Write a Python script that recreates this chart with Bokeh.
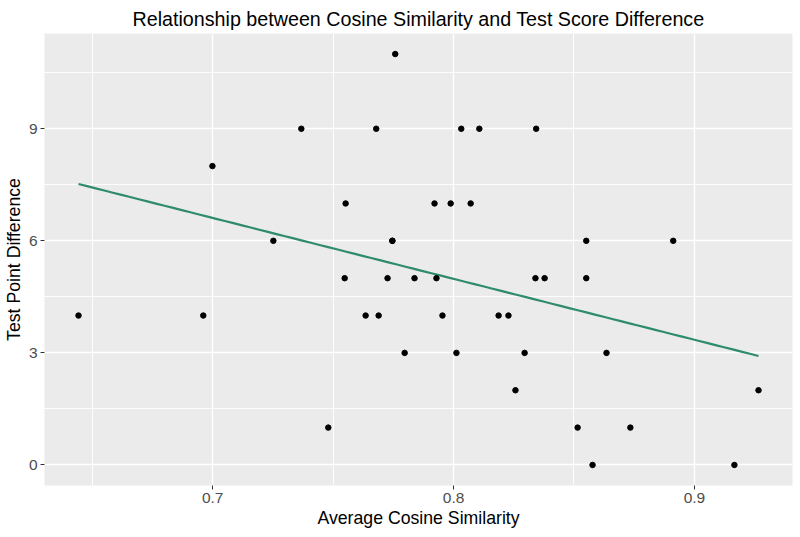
import numpy as np
from bokeh.plotting import figure
from bokeh.models import FixedTicker, Range1d
from bokeh.embed import file_html
from bokeh.resources import INLINE

# Data
cosine_similarity = [
    0.6443, 0.6961, 0.6999, 0.7252, 0.7368, 0.7480, 0.7552, 0.7548,
    0.7635, 0.7679, 0.7689, 0.7758, 0.7726, 0.7746, 0.7746, 0.7797,
    0.7838, 0.7921, 0.7929, 0.7954, 0.7988, 0.8012, 0.8032, 0.8071,
    0.8107, 0.8187, 0.8228, 0.8257, 0.8295, 0.8343, 0.8340, 0.8378,
    0.8515, 0.8551, 0.8551, 0.8577, 0.8635, 0.8734, 0.8912, 0.9166,
    0.9266,
]
point_difference = [
    4, 4, 8, 6, 9, 1, 7, 5,
    4, 9, 4, 11, 5, 6, 6, 3,
    5, 7, 5, 4, 7, 3, 9, 7,
    9, 4, 4, 2, 3, 9, 5, 5,
    1, 6, 5, 0, 3, 1, 6, 0,
    2,
]
x_ticks = [0.7, 0.8, 0.9]
x_minor = [0.65, 0.75, 0.85]
y_ticks = [0, 3, 6, 9]
y_minor = [1.5, 4.5, 7.5, 10.5]

title_text = "Relationship between Cosine Similarity and Test Score Difference"
x_title = "Average Cosine Similarity"
y_title = "Test Point Difference"

xs = np.array(cosine_similarity)
ys = np.array(point_difference, dtype=float)
slope, intercept = np.polyfit(xs, ys, 1)
fit_x = np.linspace(xs.min(), xs.max(), 80)
fit_y = slope * fit_x + intercept

xpad = (xs.max() - xs.min()) * 0.05
ypad = (ys.max() - ys.min()) * 0.05

FONT = "Liberation Sans"

p = figure(width=800, height=537, output_backend="svg", toolbar_location=None,
           x_range=Range1d(xs.min() - xpad, xs.max() + xpad),
           y_range=Range1d(ys.min() - ypad, ys.max() + ypad),
           title=title_text, min_border_left=44, min_border_right=8,
           min_border_top=33, min_border_bottom=52)

p.background_fill_color = "#EBEBEB"
p.border_fill_color = "white"
p.outline_line_color = None

p.title.text_font = FONT
p.title.text_font_size = "19.7px"
p.title.text_font_style = "normal"
p.title.align = "center"
p.title.text_color = "black"
p.title.standoff = 7
p.title.offset = 0

p.xaxis.ticker = FixedTicker(ticks=x_ticks, minor_ticks=x_minor)
p.yaxis.ticker = FixedTicker(ticks=y_ticks, minor_ticks=y_minor)
p.xaxis.axis_label = x_title
p.yaxis.axis_label = y_title

for ax in (p.xaxis, p.yaxis):
    ax.axis_line_color = None
    ax.major_tick_line_color = "#333333"
    ax.major_tick_line_width = 1
    ax.major_tick_out = 4
    ax.major_tick_in = 0
    ax.minor_tick_line_color = None
    ax.major_label_text_font = FONT
    ax.major_label_text_font_size = "15.5px"
    ax.major_label_text_color = "#4D4D4D"
    ax.axis_label_text_font = FONT
    ax.axis_label_text_font_size = "17.7px"
    ax.axis_label_text_font_style = "normal"
    ax.axis_label_text_color = "black"
    ax.major_label_standoff = 3
    ax.axis_label_standoff = 2

for g in (p.xgrid, p.ygrid):
    g.grid_line_color = "white"
    g.grid_line_width = 1.4
    g.minor_grid_line_color = "white"
    g.minor_grid_line_width = 0.9

p.line(fit_x, fit_y, line_color="#2E8B6E", line_width=2.2)
p.scatter(cosine_similarity, point_difference, size=5.5, color="black")

open("out.html", "w").write(file_html(p, INLINE))
